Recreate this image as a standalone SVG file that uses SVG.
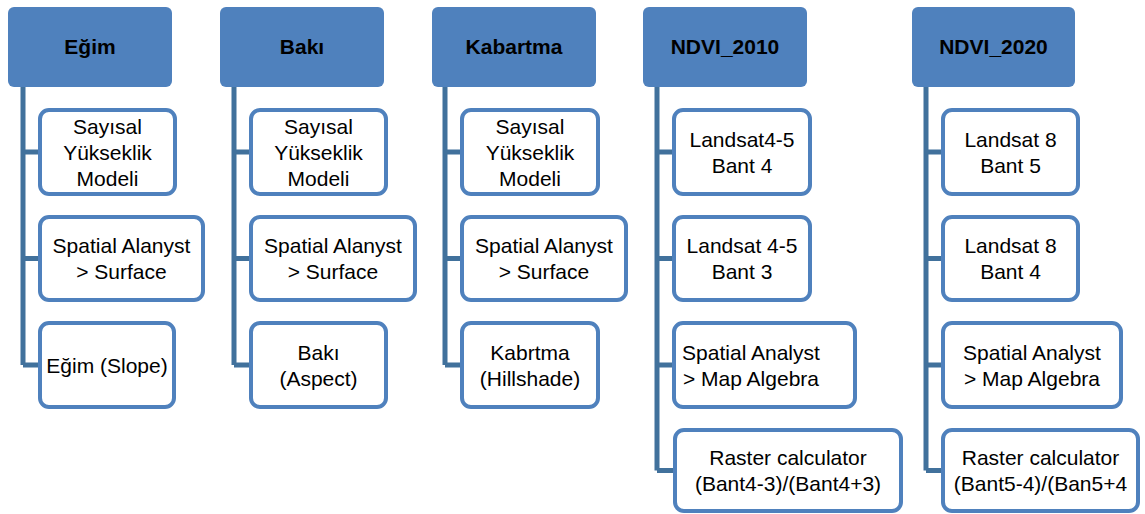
<svg xmlns="http://www.w3.org/2000/svg" width="1145" height="514" viewBox="0 0 1145 514">
<style>
.hdr{fill:#4F81BD;}
.box{fill:#FFFFFF;stroke:#4F81BD;stroke-width:4;}
.ht{font-family:"Liberation Sans",Arial,sans-serif;font-size:21px;font-weight:bold;fill:#000;text-anchor:middle;}
.bt{font-family:"Liberation Sans",Arial,sans-serif;font-size:21px;fill:#000;text-anchor:middle;}
.con{fill:none;stroke:#41719C;stroke-width:5;}
</style>
<rect width="1145" height="514" fill="#FFFFFF"/>
<g id="connectors">
<path class="con" d="M23,87 V365 M23,152 H40 M23,258.5 H40 M23,365 H40"/>
<path class="con" d="M234,87 V365 M234,152 H251 M234,258.5 H251 M234,365 H251"/>
<path class="con" d="M445,87 V365 M445,152 H462 M445,258.5 H462 M445,365 H462"/>
<path class="con" d="M657,87 V470.5 M657,152 H674 M657,258.5 H674 M657,365 H674 M657,470.5 H675"/>
<path class="con" d="M926,87 V470.5 M926,152 H943 M926,258.5 H943 M926,365 H943 M926,470.5 H943"/>
</g>
<!-- Column 1 -->
<g id="egim"><rect class="hdr" x="8" y="7" width="164" height="80" rx="6"/><text class="ht" x="90" y="54">Eğim</text></g>
<g id="egim-1"><rect class="box" x="40" y="110" width="135" height="84" rx="9"/><text class="bt" x="107.5" y="133.5">Sayısal</text><text class="bt" x="107.5" y="159.5">Yükseklik</text><text class="bt" x="107.5" y="185.5">Modeli</text></g>
<g id="egim-2"><rect class="box" x="40" y="217" width="163" height="83" rx="9"/><text class="bt" x="121.5" y="253">Spatial Alanyst</text><text class="bt" x="121.5" y="279">&gt; Surface</text></g>
<g id="egim-3"><rect class="box" x="40" y="323" width="134" height="84" rx="9"/><text class="bt" x="107" y="372.5">Eğim (Slope)</text></g>
<!-- Column 2 -->
<g id="baki"><rect class="hdr" x="220" y="7" width="164" height="80" rx="6"/><text class="ht" x="302" y="54">Bakı</text></g>
<g id="baki-1"><rect class="box" x="251" y="110" width="135" height="84" rx="9"/><text class="bt" x="318.5" y="133.5">Sayısal</text><text class="bt" x="318.5" y="159.5">Yükseklik</text><text class="bt" x="318.5" y="185.5">Modeli</text></g>
<g id="baki-2"><rect class="box" x="251" y="217" width="164" height="83" rx="9"/><text class="bt" x="333" y="253">Spatial Alanyst</text><text class="bt" x="333" y="279">&gt; Surface</text></g>
<g id="baki-3"><rect class="box" x="251" y="323" width="135" height="84" rx="9"/><text class="bt" x="318.5" y="359.5">Bakı</text><text class="bt" x="318.5" y="385.5">(Aspect)</text></g>
<!-- Column 3 -->
<g id="kabartma"><rect class="hdr" x="432" y="7" width="164" height="80" rx="6"/><text class="ht" x="514" y="54">Kabartma</text></g>
<g id="kabartma-1"><rect class="box" x="462" y="110" width="136" height="84" rx="9"/><text class="bt" x="530" y="133.5">Sayısal</text><text class="bt" x="530" y="159.5">Yükseklik</text><text class="bt" x="530" y="185.5">Modeli</text></g>
<g id="kabartma-2"><rect class="box" x="462" y="217" width="164" height="83" rx="9"/><text class="bt" x="544" y="253">Spatial Alanyst</text><text class="bt" x="544" y="279">&gt; Surface</text></g>
<g id="kabartma-3"><rect class="box" x="462" y="323" width="136" height="84" rx="9"/><text class="bt" x="530" y="359.5">Kabrtma</text><text class="bt" x="530" y="385.5">(Hillshade)</text></g>
<!-- Column 4 -->
<g id="ndvi2010"><rect class="hdr" x="643" y="7" width="164" height="80" rx="6"/><text class="ht" x="725" y="54">NDVI_2010</text></g>
<g id="ndvi2010-1"><rect class="box" x="674" y="110" width="136" height="84" rx="9"/><text class="bt" x="742" y="146.5">Landsat4-5</text><text class="bt" x="742" y="172.5">Bant 4</text></g>
<g id="ndvi2010-2"><rect class="box" x="674" y="217" width="136" height="83" rx="9"/><text class="bt" x="742" y="253">Landsat 4-5</text><text class="bt" x="742" y="279">Bant 3</text></g>
<g id="ndvi2010-3"><rect class="box" x="674" y="323" width="181" height="84" rx="9"/><text class="bt" x="751" y="359.5">Spatial Analyst</text><text class="bt" x="751" y="385.5">&gt; Map Algebra</text></g>
<g id="ndvi2010-4"><rect class="box" x="675" y="430" width="226" height="81" rx="9"/><text class="bt" x="788" y="465">Raster calculator</text><text class="bt" x="788" y="491">(Bant4-3)/(Bant4+3)</text></g>
<!-- Column 5 -->
<g id="ndvi2020"><rect class="hdr" x="912" y="7" width="163" height="80" rx="6"/><text class="ht" x="993.5" y="54">NDVI_2020</text></g>
<g id="ndvi2020-1"><rect class="box" x="943" y="110" width="135" height="84" rx="9"/><text class="bt" x="1010.5" y="146.5">Landsat 8</text><text class="bt" x="1010.5" y="172.5">Bant 5</text></g>
<g id="ndvi2020-2"><rect class="box" x="943" y="217" width="135" height="83" rx="9"/><text class="bt" x="1010.5" y="253">Landsat 8</text><text class="bt" x="1010.5" y="279">Bant 4</text></g>
<g id="ndvi2020-3"><rect class="box" x="943" y="323" width="178" height="84" rx="9"/><text class="bt" x="1032" y="359.5">Spatial Analyst</text><text class="bt" x="1032" y="385.5">&gt; Map Algebra</text></g>
<g id="ndvi2020-4"><rect class="box" x="943" y="430" width="195" height="81" rx="9"/><text class="bt" x="1040.5" y="465">Raster calculator</text><text class="bt" x="1040.5" y="491">(Bant5-4)/(Ban5+4</text></g>
</svg>
